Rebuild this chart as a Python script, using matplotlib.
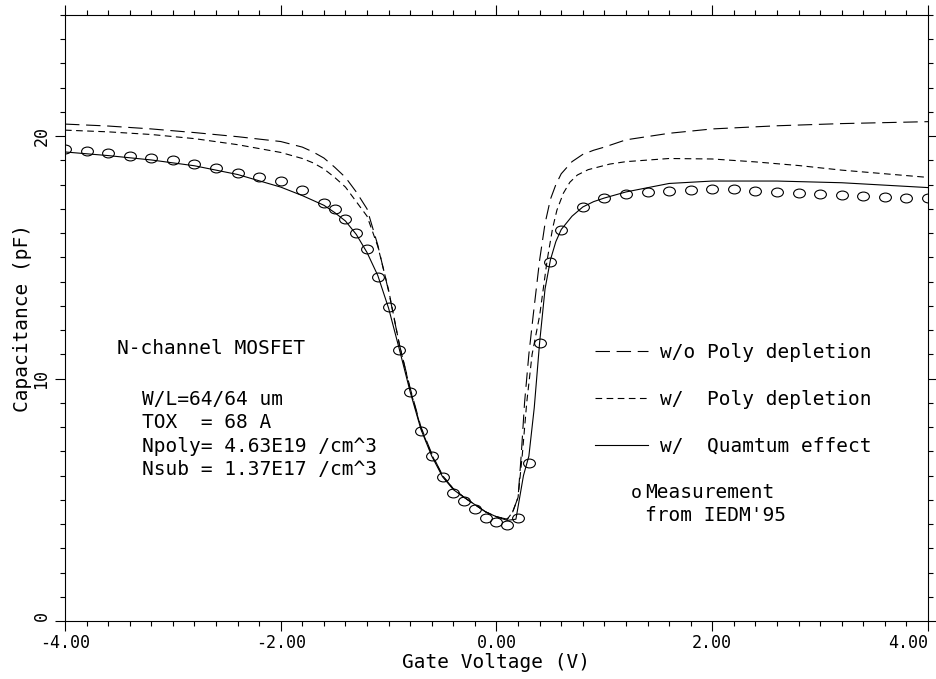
import matplotlib
matplotlib.use('Agg')
import matplotlib.pyplot as plt
from matplotlib.path import Path
from matplotlib.ticker import MultipleLocator
import numpy as np

plt.rcParams['font.family'] = ['DejaVu Sans Mono', 'DejaVu Sans']
plt.rcParams['axes.unicode_minus'] = False

# w/o poly depletion (long dash)
v_nopoly = [-4.0, -3.6, -3.2, -2.8, -2.4, -2.0, -1.8, -1.7, -1.6, -1.5, -1.4, -1.3, -1.2, -1.1, -1.0,
            -0.9, -0.8, -0.7, -0.6, -0.5, -0.4, -0.3, -0.2, -0.1, 0.0, 0.1, 0.15, 0.2, 0.23,
            0.26, 0.3, 0.34, 0.4, 0.45, 0.5, 0.55, 0.6, 0.7, 0.8, 0.9, 1.0, 1.2, 1.6, 2.0, 2.6, 3.2, 3.6, 4.0]
c_nopoly = [20.5, 20.42, 20.3, 20.15, 19.98, 19.78, 19.55, 19.35, 19.1, 18.72, 18.3, 17.7, 17.0, 15.5, 13.6,
            11.4, 9.6, 8.0, 6.9, 6.0, 5.45, 5.1, 4.8, 4.5, 4.3, 4.2, 4.5, 5.1, 6.9,
            9.0, 11.0, 12.6, 14.9, 16.4, 17.4, 18.0, 18.45, 18.95, 19.25, 19.42, 19.55, 19.85, 20.12, 20.3, 20.43, 20.52, 20.56, 20.6]

# w/ poly depletion (short dash)
v_poly = [-4.0, -3.6, -3.2, -2.8, -2.4, -2.0, -1.8, -1.7, -1.6, -1.5, -1.4, -1.3, -1.2, -1.1, -1.0,
          -0.9, -0.8, -0.7, -0.6, -0.5, -0.4, -0.3, -0.2, -0.1, 0.0, 0.1, 0.15, 0.2, 0.24,
          0.28, 0.33, 0.4, 0.47, 0.52, 0.56, 0.62, 0.68, 0.75, 0.85, 1.05, 1.2, 1.6, 2.0, 2.4, 2.8, 3.2, 3.6, 4.0]
c_poly = [20.25, 20.18, 20.07, 19.9, 19.65, 19.33, 19.08, 18.9, 18.65, 18.3, 17.9, 17.3, 16.7, 15.45, 13.65,
          11.4, 9.55, 7.95, 6.85, 6.0, 5.45, 5.1, 4.8, 4.5, 4.3, 4.2, 4.5, 5.1, 6.9,
          9.0, 11.0, 12.6, 14.9, 16.2, 16.95, 17.65, 18.1, 18.4, 18.62, 18.85, 18.95, 19.08, 19.06, 18.94, 18.79, 18.6, 18.45, 18.3]

# w/ quantum effect (solid)
v_qm = [-4.0, -3.6, -3.2, -2.8, -2.4, -2.0, -1.8, -1.6, -1.5, -1.4, -1.3, -1.2, -1.1, -1.0, -0.9,
        -0.8, -0.7, -0.6, -0.5, -0.4, -0.3, -0.2, -0.1, 0.0, 0.1, 0.18, 0.25, 0.3, 0.35,
        0.4, 0.45, 0.5, 0.55, 0.6, 0.7, 0.8, 0.9, 1.0, 1.2, 1.6, 2.0, 2.6, 3.2, 3.6, 4.0]
c_qm = [19.35, 19.2, 19.02, 18.78, 18.42, 17.9, 17.55, 17.15, 16.85, 16.5, 15.95, 15.2, 14.25, 12.9, 11.2,
        9.45, 7.9, 6.8, 5.95, 5.42, 5.1, 4.8, 4.5, 4.3, 4.15, 4.2, 6.0, 6.8, 8.8,
        11.5, 13.7, 14.9, 15.65, 16.15, 16.7, 17.08, 17.3, 17.45, 17.7, 18.05, 18.15, 18.15, 18.08, 17.98, 17.88]

# measurement (IEDM'95)
v_meas = [-4.0, -3.8, -3.6, -3.4, -3.2, -3.0, -2.8, -2.6, -2.4, -2.2, -2.0, -1.8, -1.6, -1.5,
          -1.4, -1.3, -1.2, -1.1, -1.0, -0.9, -0.8, -0.7, -0.6, -0.5, -0.4, -0.3, -0.2, -0.1,
          0.0, 0.1, 0.2, 0.3, 0.4, 0.5, 0.6, 0.8, 1.0, 1.2, 1.4, 1.6, 1.8, 2.0, 2.2, 2.4,
          2.6, 2.8, 3.0, 3.2, 3.4, 3.6, 3.8, 4.0]
c_meas = [19.46, 19.37, 19.30, 19.19, 19.10, 19.02, 18.84, 18.67, 18.50, 18.31, 18.15, 17.80, 17.26, 17.01,
          16.57, 16.02, 15.33, 14.19, 12.95, 11.20, 9.43, 7.85, 6.79, 5.92, 5.30, 4.96, 4.62, 4.24,
          4.10, 3.97, 4.24, 6.52, 11.48, 14.81, 16.12, 17.08, 17.44, 17.62, 17.70, 17.74, 17.78, 17.81, 17.81, 17.74,
          17.70, 17.64, 17.60, 17.56, 17.53, 17.51, 17.47, 17.43]

xticks = [-4, -2, 0, 2, 4]
xticklabels = ['-4.00', '-2.00', '0.00', '2.00', '4.00']
yticks = [0, 10, 20]
yticklabels = ['0', '10', '20']
labels = ['w/o Poly depletion', 'w/  Poly depletion', 'w/  Quamtum effect']
info = 'W/L=64/64 um\nTOX  = 68 A\nNpoly= 4.63E19 /cm^3\nNsub = 1.37E17 /cm^3'

fig = plt.figure(figsize=(9.37, 6.79), dpi=100)
ax = fig.add_axes([65/937, 1-621/679, 863/937, 606/679])

lw = 0.8
l1, = ax.plot(v_nopoly, c_nopoly, color='k', lw=lw, dashes=(13, 6))
l2, = ax.plot(v_poly, c_poly, color='k', lw=lw, dashes=(6, 4))
l3, = ax.plot(v_qm, c_qm, color='k', lw=lw)

circ = Path.unit_circle()
oval = Path(circ.vertices * np.array([1.0, 0.75]), circ.codes)
ax.plot(v_meas, c_meas, linestyle='none', marker=oval, markersize=8.5,
        markerfacecolor='none', markeredgecolor='k', markeredgewidth=0.8)

ax.set_xlim(-4, 4)
ax.set_ylim(0, 25)
ax.set_xticks(xticks, labels=xticklabels)
ax.set_yticks(yticks, labels=yticklabels)
ax.xaxis.set_minor_locator(MultipleLocator(0.2))
ax.yaxis.set_minor_locator(MultipleLocator(1))
ax.tick_params(which='both', direction='out', top=True, right=True, width=0.8, labelsize=12)
ax.tick_params(which='major', length=7)
ax.tick_params(which='minor', length=3.5)
ax.tick_params(axis='x', pad=2)
ax.get_xticklabels()[-1].set_horizontalalignment('right')
for lab in ax.get_yticklabels():
    lab.set_rotation(90)
    lab.set_verticalalignment('center')
ax.get_yticklabels()[0].set_verticalalignment('bottom')
for s in ax.spines.values():
    s.set_linewidth(0.8)

ax.set_xlabel('Gate Voltage (V)', fontsize=14, labelpad=1)
ax.set_ylabel('Capacitance (pF)', fontsize=14, labelpad=0)

ax.text(0.060, 0.449, 'N-channel MOSFET', transform=ax.transAxes, fontsize=14, va='center')
ax.text(0.089, 0.382, info, transform=ax.transAxes, fontsize=14, va='top', linespacing=1.3)

ax.legend([l1, l2, l3], labels, loc='upper left', bbox_to_anchor=(0.614, 0.459),
          frameon=False, fontsize=14, handlelength=2.75, handletextpad=0.6,
          labelspacing=1.43, borderpad=0, borderaxespad=0)
ax.text(0.662, 0.203, 'o', transform=ax.transAxes, fontsize=13, va='baseline', ha='center')
ax.text(0.672, 0.227, 'Measurement\nfrom IEDM\'95', transform=ax.transAxes, fontsize=14,
        va='top', linespacing=1.25)

fig.savefig('out.png', dpi=100)
